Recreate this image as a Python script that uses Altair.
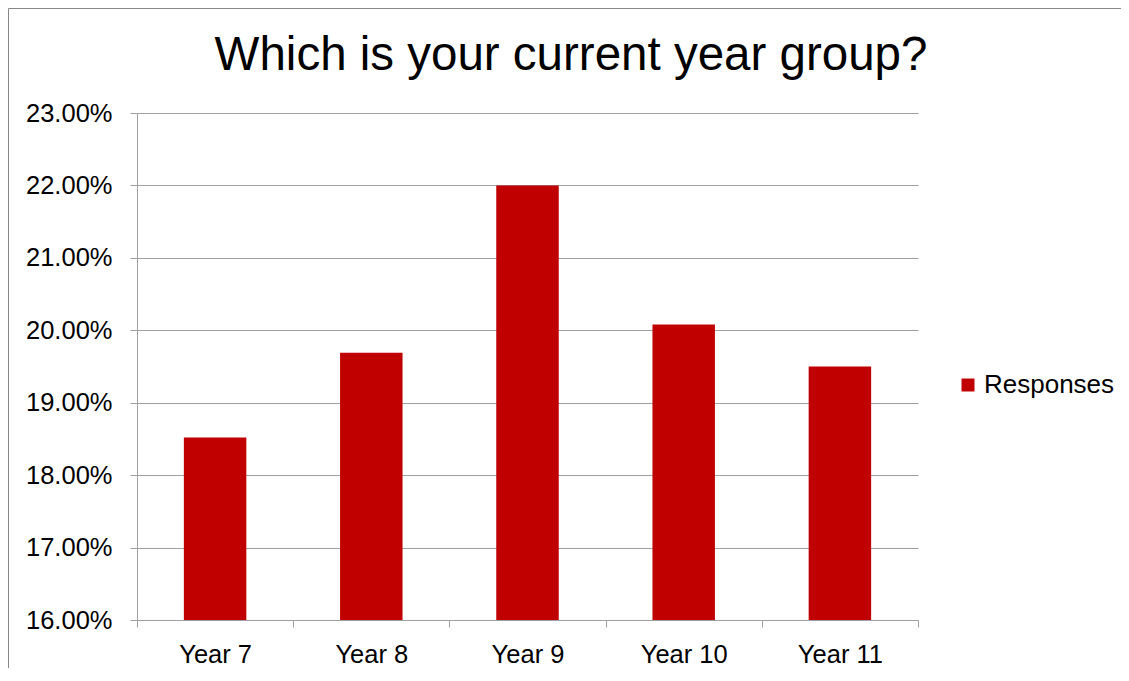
import altair as alt
import pandas as pd

categories = ["Year 7", "Year 8", "Year 9", "Year 10", "Year 11"]
responses = [0.1852, 0.1969, 0.2200, 0.2008, 0.1950]
series_name = "Responses"
y_ticks = [0.16, 0.17, 0.18, 0.19, 0.20, 0.21, 0.22, 0.23]
title_text = ["Which is your current year group?"]

df = pd.DataFrame({"year": categories, "value": responses, "series": [series_name] * len(categories)})

FONT = "Liberation Sans"
GRAY = "#A0A0A0"
RED = "#C00000"

bars = alt.Chart(df).mark_bar(width=alt.RelativeBandSize(0.4), clip=True).encode(
    x=alt.X(
        "year:N", sort=categories,
        scale=alt.Scale(paddingInner=0, paddingOuter=0),
        axis=alt.Axis(title=None, labelAngle=0, tickBand="extent", tickSize=7,
                      labelFontSize=25.5, labelFont=FONT, labelColor="black", labelPadding=15,
                      domainColor=GRAY, tickColor=GRAY, grid=False),
    ),
    y=alt.Y(
        "value:Q",
        scale=alt.Scale(domain=[0.16, 0.23], nice=False, zero=False),
        axis=alt.Axis(title=None, format=".2%", values=y_ticks, tickSize=7,
                      labelFontSize=25.5, labelFont=FONT, labelColor="black", labelPadding=18,
                      domainColor=GRAY, tickColor=GRAY, gridColor=GRAY, grid=True),
    ),
    color=alt.Color(
        "series:N",
        scale=alt.Scale(domain=[series_name], range=[RED]),
        legend=alt.Legend(title=None, orient="none", legendX=818, legendY=259,
                          symbolType="square", symbolSize=169, symbolStrokeWidth=0,
                          labelFontSize=26, labelFont=FONT, labelColor="black",
                          labelOffset=3, padding=0),
    ),
)

title_mark = alt.Chart(pd.DataFrame({"t": title_text})).mark_text(
    font=FONT, fontSize=47.5, color="black", align="center", baseline="alphabetic"
).encode(text="t:N", x=alt.value(434), y=alt.value(-43))

frame_df = pd.DataFrame({"k": [0]})
left_border = alt.Chart(frame_df).mark_rule(color="#888888", strokeWidth=1).encode(
    x=alt.value(-128.5), y=alt.value(-104.5), y2=alt.value(560)
)
top_border = alt.Chart(frame_df).mark_rule(color="#888888", strokeWidth=1).encode(
    x=alt.value(-128.5), x2=alt.value(984), y=alt.value(-104.5)
)

chart = alt.layer(bars, title_mark, left_border, top_border).properties(
    width=781,
    height=507,
    autosize=alt.AutoSizeParams(type="none"),
    padding={"left": 129, "top": 105, "right": 203, "bottom": 48},
).configure_view(stroke=None)

chart.save("out.html", embed_options={"renderer": "svg", "actions": False})
